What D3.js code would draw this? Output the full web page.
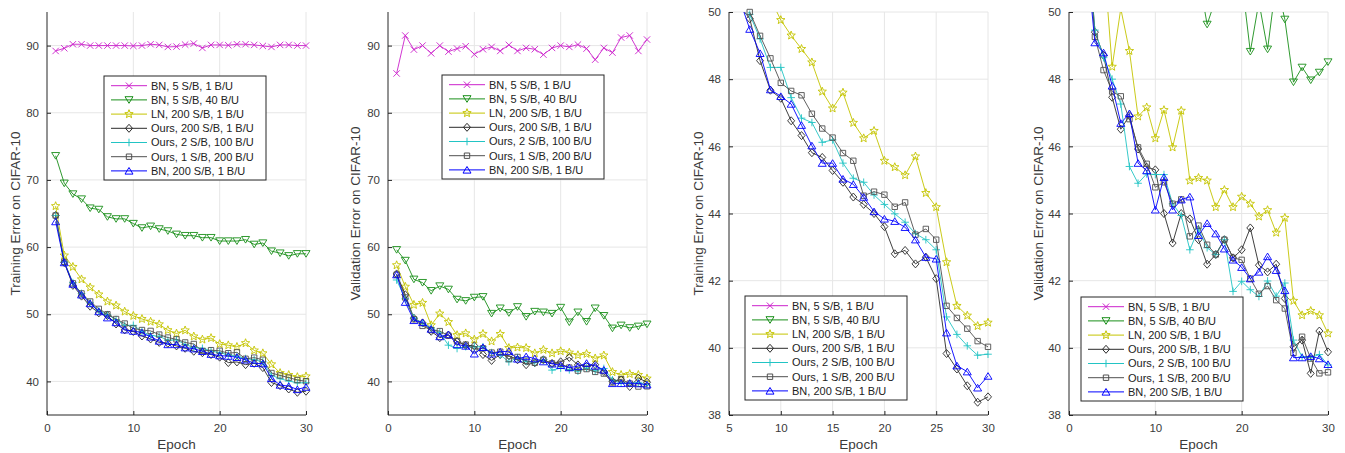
<!DOCTYPE html>
<html>
<head>
<meta charset="utf-8">
<script src="https://cdn.jsdelivr.net/npm/d3@7"></script>
<style>
  body { margin: 0; background: #fff; }
  svg { font-family: "Liberation Sans", Arial, sans-serif; }
</style>
</head>
<body>
<div id="chart"></div>
<script>
// epochs on the x axis
const epochs = [1,2,3,4,5,6,7,8,9,10,11,12,13,14,15,16,17,18,19,20,21,22,23,24,25,26,27,28,29,30];

const seriesNames = ["BN, 5 S/B, 1 B/U", "BN, 5 S/B, 40 B/U", "LN, 200 S/B, 1 B/U",
  "Ours, 200 S/B, 1 B/U", "Ours, 2 S/B, 100 B/U", "Ours, 1 S/B, 200 B/U", "BN, 200 S/B, 1 B/U"];

// training error (%)
const trainBn5b1 = [89.2,89.6,90.2,90.2,90.0,90.0,90.0,90.0,90.0,89.95,90.0,90.2,90.1,89.8,89.85,90.15,90.3,89.65,90.1,90.1,90.05,90.2,90.2,90.1,89.95,89.8,90.1,90.1,90.0,90.0];
const trainBn5b40 = [73.6,69.5,67.9,67.15,65.8,65.6,64.5,64.2,64.2,63.5,62.85,63.1,62.7,62.4,61.9,61.7,61.7,61.4,61.4,60.9,60.9,60.9,61.1,60.4,60.6,59.4,59.1,58.7,59.0,59.0];
const trainLn200 = [66.1,58.75,57.05,55.2,54.0,52.95,51.9,51.3,50.4,49.76,49.3,48.9,48.5,47.63,47.13,47.6,46.7,46.24,46.46,45.57,45.38,45.14,45.7,44.61,44.19,42.55,41.25,40.96,40.65,40.75];
const trainOurs200 = [64.7,57.7,54.3,52.7,51.2,50.2,49.8,48.55,47.67,47.43,46.76,46.32,45.81,45.67,45.28,44.93,44.49,44.27,44.0,43.61,42.8,42.9,42.5,42.7,42.06,39.83,39.37,38.87,38.38,38.54];
const trainOurs2 = [64.7,57.8,54.7,53.1,51.7,50.5,49.93,49.2,48.35,48.35,47.45,46.84,46.71,46.12,46.19,45.5,45.05,44.93,44.55,44.27,43.99,43.74,43.4,43.22,42.92,40.92,40.4,40.06,39.78,39.81];
const trainOurs1 = [64.7,57.8,54.6,53.1,51.9,50.8,50.0,49.29,48.62,47.89,47.65,47.52,46.97,46.53,46.26,45.8,45.57,44.53,44.65,44.56,44.2,44.33,43.37,43.54,43.22,41.25,40.89,40.57,40.2,40.03];
const trainBn200 = [63.8,57.7,54.5,52.9,51.6,50.4,49.49,48.77,47.69,47.49,47.26,46.63,46.02,45.5,45.5,45.03,44.87,44.49,44.06,43.84,43.77,43.59,43.22,42.7,42.65,40.45,39.47,39.29,38.81,39.16];

// validation error (%)
const valBn5b1 = [85.85,91.5,89.4,90.0,88.85,90.0,89.1,89.55,89.9,88.7,89.45,89.8,89.2,90.1,89.2,89.65,89.45,88.65,89.65,90.0,89.8,90.15,89.55,87.9,89.65,88.95,91.2,91.5,89.2,90.9];
const valBn5b40 = [59.6,58.0,55.2,54.7,53.5,54.2,53.7,52.2,52.0,52.5,52.6,50.1,50.9,50.2,51.1,49.63,50.4,50.3,50.1,51.0,48.82,50.3,48.89,50.9,49.78,47.91,48.35,47.97,48.2,48.51];
const valLn200 = [57.3,54.1,51.4,51.7,48.37,50.1,48.84,46.89,47.16,46.24,47.08,45.97,47.06,44.98,45.06,44.98,44.19,44.7,44.19,44.5,44.29,43.91,44.1,43.43,43.87,41.4,40.97,41.1,40.97,40.43];
const valOurs200 = [56.0,52.9,49.4,48.71,47.46,46.51,46.91,45.92,45.38,45.3,44.0,43.12,44.0,43.84,43.22,42.49,42.78,43.22,42.68,42.92,43.57,42.46,42.26,42.49,41.47,40.03,40.23,39.24,40.5,39.88];
const valOurs2 = [55.1,52.3,49.46,48.64,48.0,47.26,45.4,44.9,45.18,45.16,45.16,44.29,43.94,42.92,43.54,42.98,42.78,43.22,41.68,41.98,41.73,41.53,41.99,41.54,41.93,40.23,39.73,39.71,39.8,39.49];
const valOurs1 = [55.9,52.5,49.26,48.27,47.63,47.49,46.81,45.97,45.48,44.78,44.93,44.29,44.42,43.32,43.64,43.07,42.78,43.22,42.68,42.62,42.06,41.61,41.84,41.42,41.17,39.85,40.33,39.68,39.24,39.27];
const valBn200 = [55.9,51.8,49.09,48.79,47.8,46.69,46.98,45.5,45.28,44.11,45.08,44.11,44.41,44.5,43.35,43.71,43.4,42.95,42.62,42.4,42.06,42.26,42.72,42.31,41.71,39.71,39.71,39.75,39.68,39.51];

const trainSets = [trainBn5b1, trainBn5b40, trainLn200, trainOurs200, trainOurs2, trainOurs1, trainBn200];
const valSets = [valBn5b1, valBn5b40, valLn200, valOurs200, valOurs2, valOurs1, valBn200];

// styling per series
const colors = ["#cc22cc", "#1a8f1a", "#c4c400", "#2b2b2b", "#22c4c4", "#505050", "#0000ff"];
const markers = ["x", "v", "star", "diamond", "plus", "square", "tri"];

function markerPath(kind) {
  switch (kind) {
    case "x": return "M-3.2,-3.2L3.2,3.2M-3.2,3.2L3.2,-3.2";
    case "v": return "M-4,-3.2L4,-3.2L0,3.4Z";
    case "tri": return "M-4,3.2L4,3.2L0,-3.4Z";
    case "diamond": return "M0,-4L3.5,0L0,4L-3.5,0Z";
    case "plus": return "M-3.8,0H3.8M0,-3.8V3.8";
    case "square": return "M-2.7,-2.7H2.7V2.7H-2.7Z";
    case "star": {
      const pts = [];
      for (let i = 0; i < 10; i++) {
        const r = i % 2 === 0 ? 4.4 : 1.9;
        const a = -Math.PI / 2 + i * Math.PI / 5;
        pts.push([r * Math.cos(a), r * Math.sin(a)]);
      }
      return "M" + pts.map(p => p[0].toFixed(2) + "," + p[1].toFixed(2)).join("L") + "Z";
    }
  }
}

const W = 1345, H = 453;
const svg = d3.select("#chart").append("svg").attr("width", W).attr("height", H);

const panels = [
  {left: 47, right: 306, xd: [0, 30], yd: [35, 95], xt: [0,10,20,30], yt: [40,50,60,70,80,90],
   data: trainSets, ylabel: "Training Error on CIFAR-10", ylx: 15, leg: [104, 76]},
  {left: 388, right: 647, xd: [0, 30], yd: [35, 95], xt: [0,10,20,30], yt: [40,50,60,70,80,90],
   data: valSets, ylabel: "Validation Error on CIFAR-10", ylx: 355, leg: [442, 75]},
  {left: 729, right: 988, xd: [5, 30], yd: [38, 50], xt: [5,10,15,20,25,30], yt: [38,40,42,44,46,48,50],
   data: trainSets, ylabel: "Training Error on CIFAR-10", ylx: 698, leg: [745, 296]},
  {left: 1069, right: 1328, xd: [0, 30], yd: [38, 50], xt: [0,10,20,30], yt: [38,40,42,44,46,48,50],
   data: valSets, ylabel: "Validation Error on CIFAR-10", ylx: 1038, leg: [1081, 297]}
];
const plotTop = 12, plotBottom = 415;

panels.forEach((p, pi) => {
  const x = d3.scaleLinear().domain(p.xd).range([p.left, p.right]);
  const y = d3.scaleLinear().domain(p.yd).range([plotBottom, plotTop]);
  const g = svg.append("g");

  // grid
  g.append("g").selectAll("line").data(p.xt.filter(t => t !== p.xd[0])).enter().append("line")
    .attr("x1", d => x(d)).attr("x2", d => x(d)).attr("y1", plotTop).attr("y2", plotBottom)
    .attr("stroke", "#e6e6e6").attr("stroke-width", 1);
  g.append("g").selectAll("line").data(p.yt.filter(t => t !== p.yd[0])).enter().append("line")
    .attr("x1", p.left).attr("x2", p.right).attr("y1", d => y(d)).attr("y2", d => y(d))
    .attr("stroke", "#e6e6e6").attr("stroke-width", 1);

  // clip
  const clipId = "clip" + pi;
  svg.append("clipPath").attr("id", clipId).append("rect")
    .attr("x", p.left).attr("y", plotTop).attr("width", p.right - p.left).attr("height", plotBottom - plotTop);

  const line = d3.line().x((d, i) => x(epochs[i])).y(d => y(d));
  const plot = g.append("g");
  p.data.forEach((vals, si) => {
    plot.append("path").datum(vals)
      .attr("clip-path", `url(#${clipId})`)
      .attr("d", line).attr("fill", "none")
      .attr("stroke", colors[si]).attr("stroke-width", 1).attr("stroke-opacity", 0.9);
    const pts = vals.map((v, i) => [epochs[i], v])
      .filter(d => d[0] >= p.xd[0] && d[0] <= p.xd[1] && d[1] >= p.yd[0] && d[1] <= p.yd[1]);
    plot.append("g").selectAll("path").data(pts).enter().append("path")
      .attr("transform", d => `translate(${x(d[0])},${y(d[1])})`)
      .attr("d", markerPath(markers[si])).attr("fill", "none")
      .attr("stroke", colors[si]).attr("stroke-width", 1).attr("stroke-opacity", 0.9);
  });

  // axes
  const xAxis = d3.axisBottom(x).tickValues(p.xt).tickSize(-4).tickPadding(9);
  const yAxis = d3.axisLeft(y).tickValues(p.yt).tickSize(-4).tickPadding(8);
  const gx = g.append("g").attr("transform", `translate(0,${plotBottom})`).call(xAxis);
  const gy = g.append("g").attr("transform", `translate(${p.left},0)`).call(yAxis);
  [gx, gy].forEach(a => {
    a.select(".domain").attr("stroke", "#262626");
    a.selectAll(".tick line").attr("stroke", "#262626");
    a.selectAll(".tick text").attr("fill", "#3a3a3a").style("font-size", "11.5px")
      .style("font-family", "'Liberation Sans', Arial, sans-serif");
  });
  gx.select(".domain").attr("d", `M${p.left},0H${p.right}`);
  gy.select(".domain").attr("d", `M0,${plotBottom}V${plotTop}`);

  g.append("text").attr("x", (p.left + p.right) / 2).attr("y", 449)
    .attr("text-anchor", "middle").attr("fill", "#3a3a3a").style("font-size", "13.5px").text("Epoch");
  g.append("text").attr("transform", `translate(${p.ylx},${(plotTop + plotBottom) / 2}) rotate(-90)`)
    .attr("text-anchor", "middle").attr("dy", "0.35em").attr("fill", "#3a3a3a")
    .style("font-size", "13.5px").text(p.ylabel);

  // legend
  const lg = g.append("g").attr("transform", `translate(${p.leg[0]},${p.leg[1]})`);
  lg.append("rect").attr("width", 162).attr("height", 104)
    .attr("fill", "#fff").attr("stroke", "#262626").attr("stroke-width", 1);
  seriesNames.forEach((name, si) => {
    const ry = 9.7 + si * 14.2;
    lg.append("line").attr("x1", 7).attr("x2", 43).attr("y1", ry).attr("y2", ry)
      .attr("stroke", colors[si]).attr("stroke-width", 1);
    lg.append("path").attr("transform", `translate(25,${ry})`).attr("d", markerPath(markers[si]))
      .attr("fill", "none").attr("stroke", colors[si]).attr("stroke-width", 1);
    lg.append("text").attr("x", 47).attr("y", ry).attr("dy", "0.35em")
      .attr("fill", "#222").style("font-size", "11px").text(name);
  });
});
</script>
</body>
</html>
